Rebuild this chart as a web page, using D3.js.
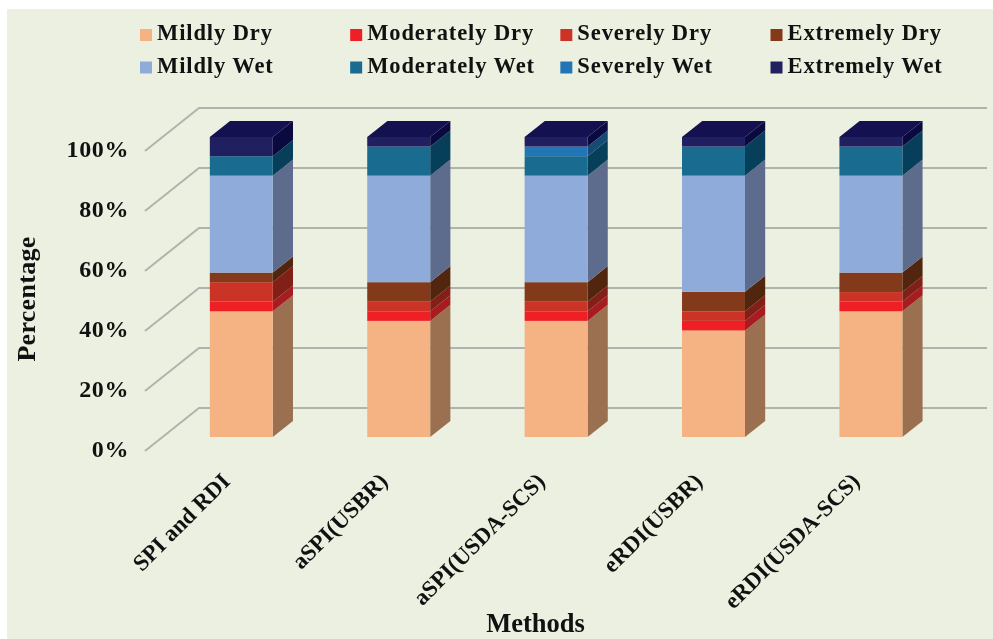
<!DOCTYPE html>
<html>
<head>
<meta charset="utf-8">
<script src="https://cdn.jsdelivr.net/npm/d3@7"></script>
<style>
  html, body { margin: 0; padding: 0; background: #fff; }
  svg { display: block; filter: blur(0.4px); }
  text { font-family: "Liberation Serif", serif; font-weight: bold; fill: #111; }
</style>
</head>
<body>
<div id="chart"></div>
<script>
const methods = ['SPI and RDI', 'aSPI(USBR)', 'aSPI(USDA-SCS)', 'eRDI(USBR)', 'eRDI(USDA-SCS)'];
const classes = ['Mildly Dry', 'Moderately Dry', 'Severely Dry', 'Extremely Dry',
  'Mildly Wet', 'Moderately Wet', 'Severely Wet', 'Extremely Wet'];

// percentages, one array per class
const mildlyDry = [41.9, 38.7, 38.7, 35.5, 41.9];
const moderatelyDry = [3.2, 3.2, 3.2, 3.2, 3.2];
const severelyDry = [6.5, 3.2, 3.2, 3.2, 3.2];
const extremelyDry = [3.2, 6.5, 6.5, 6.5, 6.5];
const mildlyWet = [32.3, 35.5, 35.5, 38.7, 32.3];
const moderatelyWet = [6.5, 9.7, 6.5, 9.7, 9.7];
const severelyWet = [0, 0, 3.2, 0, 0];
const extremelyWet = [6.4, 3.2, 3.2, 3.2, 3.2];
const tickValues = [0, 20, 40, 60, 80, 100];

const seriesValues = [mildlyDry, moderatelyDry, severelyDry, extremelyDry,
  mildlyWet, moderatelyWet, severelyWet, extremelyWet];
const frontColours = ['#f5b283', '#ee1f25', '#cb3327', '#823a1a', '#8fabd9', '#196b90', '#2276b8', '#201f60'];
const sideColours = ['#9a7050', '#a61c20', '#822018', '#52260e', '#5d6b8c', '#073f5a', '#154a74', '#0a0a40'];
const topColour = '#131150';

function drawChart() {
  const width = 993, height = 639;

  const svg = d3.select('#chart').append('svg')
    .attr('width', width)
    .attr('height', height);

  svg.append('rect')
    .attr('x', 7).attr('y', 9)
    .attr('width', width - 7).attr('height', height - 9)
    .attr('fill', '#ecf0e0');

  const x = d3.scaleBand()
    .domain(methods)
    .range([145, 932])
    .paddingInner(0.6)
    .paddingOuter(0.3);

  const y = d3.scaleLinear().domain([0, 100]).range([451, 151]);

  // oblique projection: how far a depth of 1 moves a point
  const depthX = 54, depthY = 43;
  const barNear = 0.326, barFar = 0.70;
  const px = (v, d) => v + depthX * d;
  const py = (v, d) => v - depthY * d;

  // gridlines on the side wall and back wall
  const grid = svg.append('g')
    .attr('fill', 'none')
    .attr('stroke', '#b1b3ad')
    .attr('stroke-width', 2);

  grid.selectAll('path')
    .data(tickValues)
    .enter()
    .append('path')
    .attr('d', d => `M${px(145, 0)},${py(y(d), 0)}L${px(145, 1)},${py(y(d), 1)}L987,${py(y(d), 1)}`);

  // stacks
  const rows = methods.map((m, i) => {
    const row = { method: m };
    classes.forEach((c, j) => { row[c] = seriesValues[j][i]; });
    return row;
  });
  const stacked = d3.stack().keys(classes)(rows);

  const bars = svg.append('g');

  stacked.forEach((layer, j) => {
    const g = bars.append('g');
    // side face
    g.selectAll('path')
      .data(layer.filter(d => d[1] > d[0]))
      .enter()
      .append('path')
      .attr('fill', sideColours[j])
      .attr('d', d => {
        const r = x(d.data.method) + x.bandwidth();
        return `M${px(r, barNear)},${py(y(d[0]), barNear)}` +
          `L${px(r, barFar)},${py(y(d[0]), barFar)}` +
          `L${px(r, barFar)},${py(y(d[1]), barFar)}` +
          `L${px(r, barNear)},${py(y(d[1]), barNear)}Z`;
      });
    // front face
    g.selectAll('rect')
      .data(layer.filter(d => d[1] > d[0]))
      .enter()
      .append('rect')
      .attr('fill', frontColours[j])
      .attr('x', d => px(x(d.data.method), barNear))
      .attr('y', d => py(y(d[1]), barNear))
      .attr('width', x.bandwidth())
      .attr('height', d => y(d[0]) - y(d[1]));
  });

  // top faces
  bars.append('g').selectAll('path')
    .data(methods)
    .enter()
    .append('path')
    .attr('fill', topColour)
    .attr('d', m => {
      const l = x(m), r = l + x.bandwidth(), t = y(100);
      return `M${px(l, barNear)},${py(t, barNear)}L${px(r, barNear)},${py(t, barNear)}` +
        `L${px(r, barFar)},${py(t, barFar)}L${px(l, barFar)},${py(t, barFar)}Z`;
    });

  // y axis labels
  const yAxis = svg.append('g')
    .attr('transform', 'translate(145,-2)')
    .call(d3.axisLeft(y).tickValues(tickValues).tickSize(0).tickPadding(16).tickFormat(d => d + '%'));
  yAxis.select('.domain').remove();
  yAxis.selectAll('text')
    .style('font-family', '"Liberation Serif", serif')
    .style('font-weight', 'bold')
    .style('font-size', '24px')
    .style('letter-spacing', '0.6px')
    .attr('fill', '#111');

  // x axis labels
  const xAxis = svg.append('g')
    .attr('transform', 'translate(0,477)')
    .call(d3.axisBottom(x).tickSize(0).tickPadding(0));
  xAxis.select('.domain').remove();
  xAxis.selectAll('text')
    .style('font-family', '"Liberation Serif", serif')
    .style('font-weight', 'bold')
    .style('font-size', '23px')
    .attr('fill', '#111')
    .attr('text-anchor', 'end')
    .attr('dy', '0.35em')
    .attr('transform', 'translate(2,0) rotate(-45)');

  // axis titles
  svg.append('text')
    .attr('x', 535.5).attr('y', 632)
    .attr('text-anchor', 'middle')
    .style('font-size', '26.5px')
    .text('Methods');

  svg.append('text')
    .attr('transform', 'translate(35,299) rotate(-90)')
    .attr('text-anchor', 'middle')
    .style('font-size', '26px')
    .style('letter-spacing', '0.3px')
    .text('Percentage');

  // legend, four columns and two rows
  const legendX = d3.scalePoint().domain(d3.range(4)).range([140, 770.5]);
  const legendY = d3.scalePoint().domain(d3.range(2)).range([29, 61.5]);

  const legend = svg.append('g').selectAll('g')
    .data(classes)
    .enter()
    .append('g')
    .attr('transform', (d, i) => `translate(${legendX(i % 4)},${legendY(Math.floor(i / 4))})`);

  legend.append('rect')
    .attr('width', 12).attr('height', 12)
    .attr('fill', (d, i) => frontColours[i]);

  legend.append('text')
    .attr('x', 17).attr('y', 11)
    .style('font-size', '22.5px')
    .style('letter-spacing', '0.9px')
    .text(d => d);
}

window.onload = function () {
  drawChart();
};
</script>
</body>
</html>
